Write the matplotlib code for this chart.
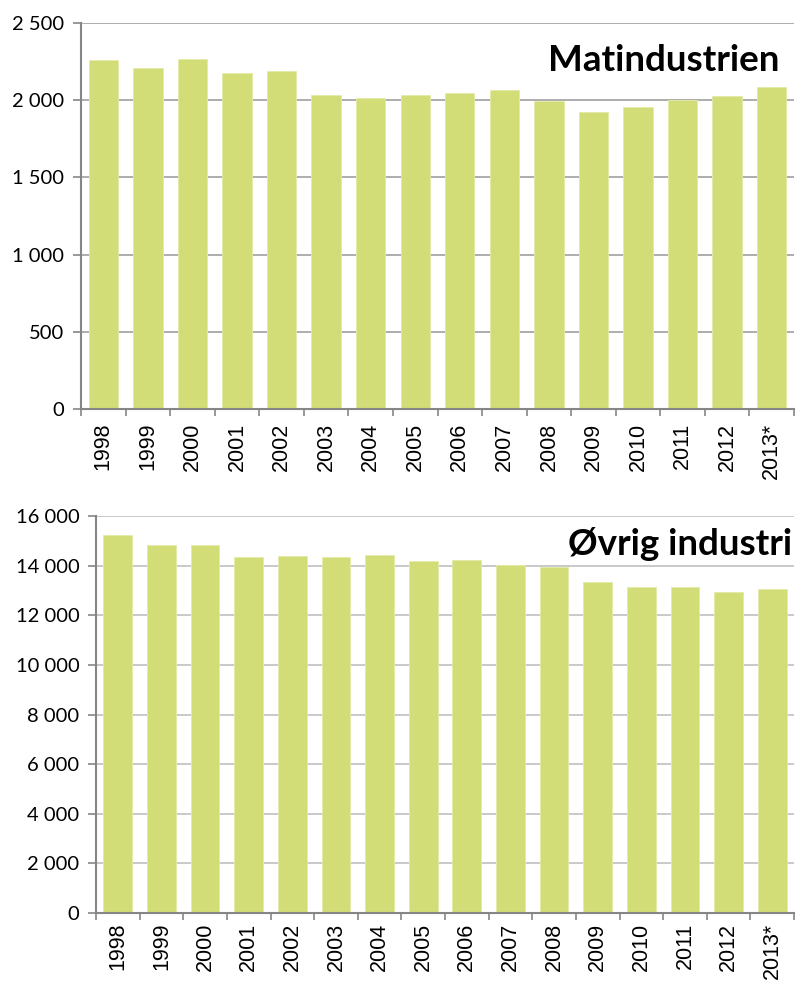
import matplotlib
matplotlib.use("Agg")
import matplotlib.pyplot as plt
import numpy as np

years = ["1998", "1999", "2000", "2001", "2002", "2003", "2004", "2005",
         "2006", "2007", "2008", "2009", "2010", "2011", "2012", "2013*"]
mat_values = [2262, 2209, 2267, 2176, 2191, 2034, 2012, 2036,
              2049, 2066, 1995, 1921, 1958, 2003, 2025, 2083]
ovrig_values = [15234, 14818, 14843, 14347, 14387, 14335, 14427, 14185,
                14226, 14036, 13956, 13339, 13125, 13137, 12935, 13056]
mat_yticks = [0, 500, 1000, 1500, 2000, 2500]
ovrig_yticks = [0, 2000, 4000, 6000, 8000, 10000, 12000, 14000, 16000]
titles = ["Matindustrien", "Øvrig industri"]

BAR = "#D3DD77"
W, H = 797, 981
fig = plt.figure(figsize=(W / 100, H / 100), dpi=100)

def fmt(v):
    return f"{v:,}".replace(",", " ")

def make(rect, values, yticks, title, gridcol, title_x, title_y, xpad):
    ax = fig.add_axes(rect)
    x = np.arange(len(years))
    ax.bar(x, values, width=0.66, color=BAR, edgecolor="#E4EAA8", linewidth=0.6, zorder=2)
    ax.set_xlim(-0.5, len(years) - 0.5)
    ax.set_ylim(0, yticks[-1])
    ax.set_yticks(yticks)
    ax.set_yticklabels([fmt(v) for v in yticks], fontfamily="Lato", fontsize=14.5)
    ax.yaxis.grid(True, color=gridcol, linewidth=1.2, zorder=1)
    ax.set_axisbelow(True)
    ax.set_xticks(np.arange(-0.5, len(years), 1.0))
    ax.set_xticklabels([])
    ax.set_xticks(x, minor=True)
    ax.set_xticklabels(years, minor=True, rotation=90, fontfamily="Liberation Sans", fontsize=15.5)
    ax.tick_params(axis="x", which="major", length=5, color="#868686", width=1.2)
    ax.tick_params(axis="x", which="minor", length=0, pad=xpad)
    ax.tick_params(axis="y", length=6, color="#868686", width=1.2, pad=6)
    for s in ["top", "right"]:
        ax.spines[s].set_visible(False)
    for s in ["left", "bottom"]:
        ax.spines[s].set_color("#868686")
        ax.spines[s].set_linewidth(1.5)
    ax.text(title_x, title_y, title, transform=ax.transAxes, ha="right", va="top",
            fontfamily="Lato", fontweight="bold", fontsize=26.5)
    return ax

make([81 / W, 1 - 409 / H, (794 - 81) / W, 386 / H], mat_values, mat_yticks,
     titles[0], "#A0A0A0", 0.98, 0.945, 10)
make([96 / W, 1 - 913 / H, (794 - 96) / W, 397 / H], ovrig_values, ovrig_yticks,
     titles[1], "#C0C0C0", 0.997, 0.972, 7)

fig.savefig("out.png", dpi=100)
